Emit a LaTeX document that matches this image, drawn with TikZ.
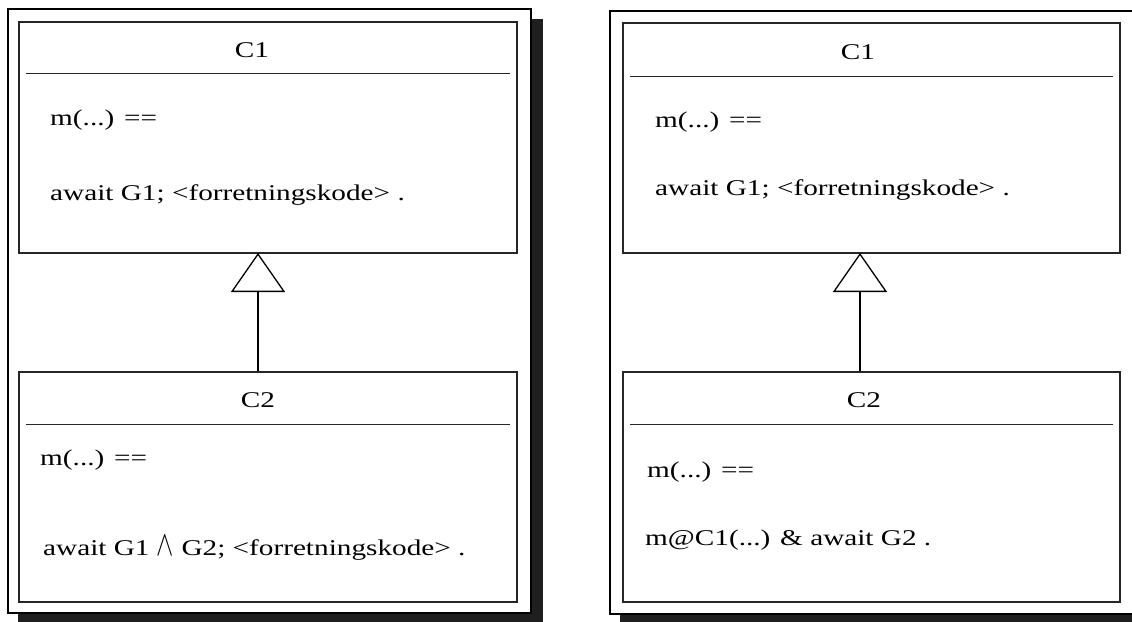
\documentclass[tikz,border=0pt]{standalone}
\usepackage{fontspec}
\usepackage{graphicx}
\setmainfont[FakeStretch=1.3]{Liberation Serif}
\usetikzlibrary{arrows.meta}
\newcommand{\andop}{\scalebox{1.25}[1.7]{$\wedge$}}
\begin{document}
\begin{tikzpicture}[x=1pt,y=-1pt,
  frame/.style={draw=black,line width=2pt,fill=white},
  shade/.style={fill=black!88},
  classbox/.style={draw=black!85,line width=1.4pt,rectangle,inner sep=0pt},
  rule/.style={draw=black!85,line width=1.4pt},
  title/.style={font=\fontsize{22.5}{26}\selectfont,inner sep=0pt},
  body/.style={font=\fontsize{22.5}{26}\selectfont,inner sep=0pt,anchor=west},
  inherit/.style={draw=black,line width=1.3pt,
    -{Triangle[open,length=39pt,width=54pt,line width=1.3pt]}}]
\useasboundingbox (0,0) rectangle (1132,621);
\clip (0,0) rectangle (1132,621);

% outer frames with drop shadows
\fill[shade] (18,19) rectangle (543,630);
\draw[frame] (8,9) rectangle (531,613);
\fill[shade] (620,21) rectangle (1160,630);
\draw[frame] (610,11) rectangle (1145,614);

% ---- left diagram ----
\node[classbox,minimum width=498pt,minimum height=231pt] (c1l) at (268,137.5) {};
\node[classbox,minimum width=498pt,minimum height=230pt] (c2l) at (268,487) {};
\draw[rule] ([xshift=8pt,yshift=-52pt]c1l.north west) -- ([xshift=-8pt,yshift=-52pt]c1l.north east);
\draw[rule] ([xshift=8pt,yshift=-53pt]c2l.north west) -- ([xshift=-8pt,yshift=-53pt]c2l.north east);
\node[title] (t1l) at (252,50) {C1};
\node[title] (t2l) at (258,400) {C2};
\node[body] (m1l) at (50,120) {m(...) ==};
\node[body] (b1l) at (50,195) {await G1; <forretningskode> .};
\node[body] (m2l) at (40,460) {m(...) ==};
\node[body] (b2l) at (43,548) {await G1 \andop\ G2; <forretningskode> .};
\coordinate (tipl) at (258,253);
\draw[inherit] (c2l.north -| tipl) -- (tipl);

% ---- right diagram ----
\node[classbox,minimum width=497pt,minimum height=230pt] (c1r) at (871.5,138) {};
\node[classbox,minimum width=497pt,minimum height=230pt] (c2r) at (871.5,487) {};
\draw[rule] ([xshift=8pt,yshift=-54pt]c1r.north west) -- ([xshift=-8pt,yshift=-54pt]c1r.north east);
\draw[rule] ([xshift=8pt,yshift=-53pt]c2r.north west) -- ([xshift=-8pt,yshift=-53pt]c2r.north east);
\node[title] (t1r) at (858,52) {C1};
\node[title] (t2r) at (864,400) {C2};
\node[body] (m1r) at (655,122) {m(...) ==};
\node[body] (b1r) at (655,190) {await G1; <forretningskode> .};
\node[body] (m2r) at (647,472) {m(...) ==};
\node[body] (b2r) at (645,540) {m@C1(...) \& await G2 .};
\coordinate (tipr) at (860,253);
\draw[inherit] (c2r.north -| tipr) -- (tipr);
\end{tikzpicture}
\end{document}
